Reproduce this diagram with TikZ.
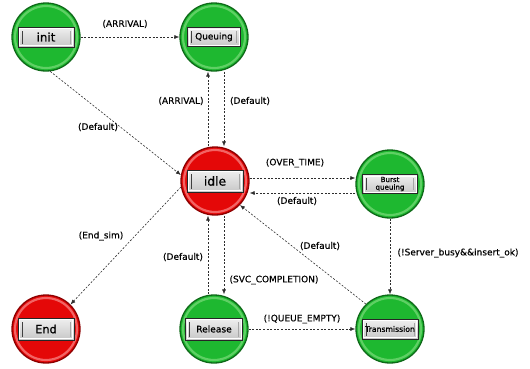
\documentclass[tikz,border=0pt]{standalone}
\usepackage{fontspec}
\setmainfont{DejaVu Sans}
\newfontfamily\boxfont[FakeBold=0.8]{DejaVu Sans}
\newfontfamily\labfont[FakeBold=0.25]{DejaVu Sans}
\usetikzlibrary{arrows.meta,calc}
\definecolor{gmain}{RGB}{30,184,48}
\definecolor{gdark}{RGB}{14,105,24}
\definecolor{glight}{RGB}{95,208,100}
\definecolor{rmain}{RGB}{228,8,8}
\definecolor{rdark}{RGB}{140,0,0}
\definecolor{rlight}{RGB}{242,100,100}
\definecolor{edgecol}{RGB}{45,45,45}
\tikzset{
  state/.style={circle, minimum size=68pt, inner sep=0pt, line width=1.3pt},
  gstate/.style={state, draw=gdark, fill=gmain,
    path picture={\draw[glight,line width=2.2pt] (path picture bounding box.center) circle (31pt);}},
  rstate/.style={state, draw=rdark, fill=rmain,
    path picture={\draw[rlight,line width=2.2pt] (path picture bounding box.center) circle (31pt);}},
  lbox/.style={rectangle, draw=black!85, line width=1pt, top color=black!6, bottom color=black!22,
    inner sep=0pt, minimum width=56pt, minimum height=20pt, align=center,
    path picture={
      \draw[white, line width=0.6pt] ([shift={(1.6pt,1.6pt)}]path picture bounding box.south west) rectangle ([shift={(-1.6pt,-1.6pt)}]path picture bounding box.north east);
      \draw[black!75, line width=1pt] ([shift={(4pt,3.5pt)}]path picture bounding box.south west) -- ([shift={(4pt,-3.5pt)}]path picture bounding box.north west);
      \draw[black!35, line width=0.7pt] ([shift={(-4pt,3.5pt)}]path picture bounding box.south east) -- ([shift={(-4pt,-3.5pt)}]path picture bounding box.north east);
    }},
  elab/.style={font=\labfont\fontsize{9}{10}\selectfont, text=black, inner sep=0pt},
  arr/.style={draw=edgecol, line width=0.6pt, dash pattern=on 2pt off 1.6pt, -{Latex[length=5pt,width=4pt]}},
}
\begin{document}
\begin{tikzpicture}[x=1pt,y=-1pt]
\useasboundingbox (0,0) rectangle (530,368);
% states
\node[gstate] (init) at (46,37) {};
\node[gstate] (Queuing) at (214,37) {};
\node[rstate] (idle) at (215,181) {};
\node[gstate] (Burst) at (390,184) {};
\node[rstate] (End) at (46,329) {};
\node[gstate] (Release) at (214,329) {};
\node[gstate] (Transmission) at (390,329) {};
% label boxes
\node[lbox, font=\boxfont\fontsize{11.8}{12}\selectfont] (initL) at (init.center) {init};
\node[lbox, minimum width=53pt, minimum height=19pt, font=\boxfont\fontsize{8.9}{9}\selectfont] (QueuingL) at (Queuing.center) {Queuing};
\node[lbox, minimum height=22pt, font=\boxfont\fontsize{12.3}{12.5}\selectfont] (idleL) at (idle.center) {idle};
\node[lbox, minimum width=55pt, minimum height=19pt, font=\boxfont\fontsize{7.1}{7.6}\selectfont] (BurstL) at (Burst.center) {Burst\\queuing};
\node[lbox, minimum height=22pt, font=\boxfont\fontsize{11.3}{11.5}\selectfont] (EndL) at (End.center) {End};
\node[lbox, minimum width=57pt, minimum height=22pt, font=\boxfont\fontsize{9.1}{9.3}\selectfont] (ReleaseL) at (Release.center) {Release};
\node[lbox, minimum height=20pt, font=\boxfont\fontsize{7.7}{7.8}\selectfont] (TransmissionL) at (Transmission.center) {Transmission};
% helper coordinates
\coordinate (xL) at (208,0);
\coordinate (xR) at (224,0);
\coordinate (yU) at (0,178);
\coordinate (yD) at (0,193);
% connectors
\draw[arr] (init) -- (Queuing);
\draw[arr] (init.-83) -- (idle.170);
\draw[arr] (idle.north -| xL) -- (Queuing.south -| xL);
\draw[arr] (Queuing.south -| xR) -- (idle.north -| xR);
\draw[arr] (idle.east |- yU) -- (Burst.west |- yU);
\draw[arr] (Burst.west |- yD) -- (idle.east |- yD);
\draw[arr] (idle.-170) -- (End.45);
\draw[arr] (Release.north -| xL) -- (idle.south -| xL);
\draw[arr] (idle.south -| xR) -- (Release.north -| xR);
\draw[arr] (Transmission.134) -- (idle.-44);
\draw[arr] (Release) -- (Transmission);
\draw[arr] (Burst) -- (Transmission);
% edge labels
\node[elab] (l1) at (125,24) {(ARRIVAL)};
\node[elab] (l2) at (98,127) {(Default)};
\node[elab] (l3) at (181,101) {(ARRIVAL)};
\node[elab] (l4) at (250,101) {(Default)};
\node[elab] (l5) at (295,163) {(OVER\_TIME)};
\node[elab] (l6) at (297,201) {(Default)};
\node[elab] (l7) at (101,236) {(End\_sim)};
\node[elab] (l8) at (183,257) {(Default)};
\node[elab] (l9) at (274,280) {(SVC\_COMPLETION)};
\node[elab] (l10) at (320,246) {(Default)};
\node[elab] (l11) at (302,319) {(!QUEUE\_EMPTY)};
\node[elab] (l12) at (458,253) {(!Server\_busy\&\&insert\_ok)};
\end{tikzpicture}
\end{document}
